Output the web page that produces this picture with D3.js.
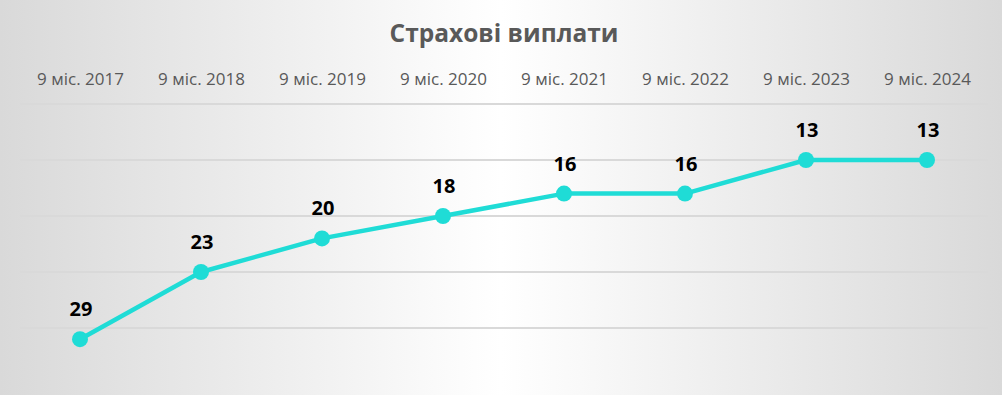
<!DOCTYPE html>
<html>
<head>
<meta charset="utf-8">
<script src="https://cdn.jsdelivr.net/npm/d3@7"></script>
<style>
  body { margin: 0; }
  svg { display: block; }
</style>
</head>
<body>
<div id="graph"></div>
<script>
'use strict'

const title = 'Страхові виплати'
const categories = ['9 міс. 2017', '9 міс. 2018', '9 міс. 2019', '9 міс. 2020',
  '9 міс. 2021', '9 міс. 2022', '9 міс. 2023', '9 міс. 2024']
const values = [29, 23, 20, 18, 16, 16, 13, 13]
const gridValues = [8, 13, 18, 23, 28]

const cw = 1002, ch = 395
const margin = { top: 104, right: 14, bottom: 11, left: 20 }
const width = cw - margin.left - margin.right
const height = ch - margin.top - margin.bottom
const color = '#1fdcd6'

const svg = d3.select('#graph').append('svg')
  .attr('width', cw)
  .attr('height', ch)

const grad = svg.append('defs').append('linearGradient')
  .attr('id', 'bg')
  .attr('x1', 0).attr('x2', 1).attr('y1', 0).attr('y2', 0)
grad.append('stop').attr('offset', '0%').attr('stop-color', '#d9d9d9')
grad.append('stop').attr('offset', '50%').attr('stop-color', '#ffffff')
grad.append('stop').attr('offset', '100%').attr('stop-color', '#d9d9d9')

svg.append('rect')
  .attr('width', cw)
  .attr('height', ch)
  .attr('fill', 'url(#bg)')

svg.append('text')
  .attr('x', cw / 2 + 3)
  .attr('y', 42)
  .attr('text-anchor', 'middle')
  .attr('font-family', 'Open Sans')
  .attr('font-weight', 'bold')
  .attr('font-size', 24.5)
  .attr('fill', '#595959')
  .text(title)

const g = svg.append('g')
  .attr('transform', `translate(${margin.left}, ${margin.top})`)

const x = d3.scalePoint()
  .domain(categories)
  .range([60, 907])

// reversed value axis: small values on top
const y = d3.scaleLinear()
  .domain([8, 33])
  .range([0, 280])

g.append('g')
  .attr('class', 'grid')
  .selectAll('line')
  .data(gridValues)
  .join('line')
    .attr('x1', 0)
    .attr('x2', width)
    .attr('y1', d => y(d))
    .attr('y2', d => y(d))
    .attr('stroke', '#d9d9d9')
    .attr('stroke-width', 2)

const xAxis = g.append('g')
  .attr('class', 'x-axis')
  .call(d3.axisTop(x).tickSize(0).tickPadding(0))
xAxis.select('.domain').remove()
xAxis.selectAll('text')
  .attr('y', -19)
  .attr('font-family', 'Open Sans')
  .attr('font-size', 17)
  .attr('fill', '#595959')

const line = d3.line()
  .x((d, i) => x(categories[i]))
  .y(d => y(d))

g.append('path')
  .datum(values)
  .attr('fill', 'none')
  .attr('stroke', color)
  .attr('stroke-width', 4.5)
  .attr('stroke-linejoin', 'round')
  .attr('d', line)

g.selectAll('.dot')
  .data(values)
  .join('circle')
    .attr('class', 'dot')
    .attr('cx', (d, i) => x(categories[i]))
    .attr('cy', d => y(d))
    .attr('r', 8)
    .attr('fill', color)

g.selectAll('.label')
  .data(values)
  .join('text')
    .attr('class', 'label')
    .attr('x', (d, i) => x(categories[i]) + 1)
    .attr('y', d => y(d) - 23)
    .attr('text-anchor', 'middle')
    .attr('font-family', 'Open Sans')
    .attr('font-weight', 'bold')
    .attr('font-size', 20)
    .attr('fill', '#000')
    .text(d => d)
</script>
</body>
</html>
